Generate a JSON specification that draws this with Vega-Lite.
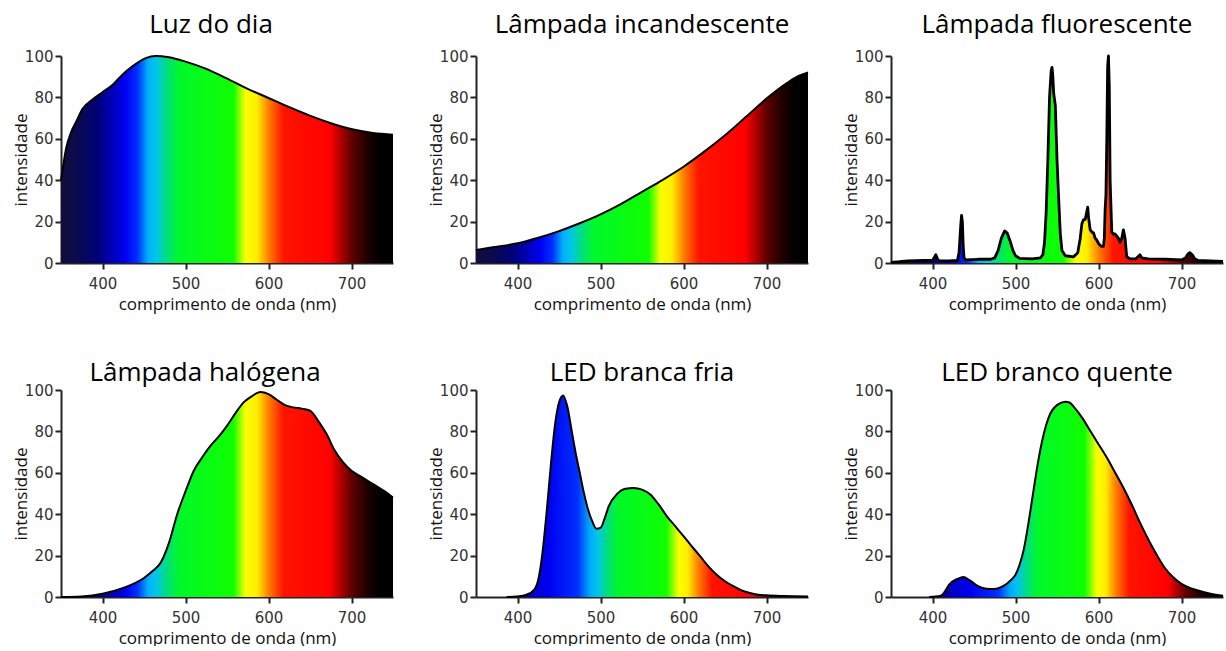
{
  "$schema": "https://vega.github.io/schema/vega-lite/v6.json",
  "padding": {"left": 12, "top": 12, "right": 0, "bottom": 0},
  "background": "white",
  "datasets": {
    "luz": [
      {"x":350,"y":40},{"x":353,"y":48},{"x":356,"y":55},{"x":362,"y":63},{"x":368,"y":68},{"x":376,"y":74.5},{"x":388,"y":79},{"x":400,"y":82.5},{"x":412,"y":86},{"x":424,"y":91},{"x":436,"y":95},{"x":452,"y":99},{"x":464,"y":100},{"x":480,"y":99.4},{"x":500,"y":97.3},{"x":525,"y":93.8},{"x":549,"y":89.3},{"x":573,"y":84.5},{"x":600,"y":79.7},{"x":625,"y":75.3},{"x":649,"y":71.3},{"x":677,"y":67.3},{"x":701,"y":64.6},{"x":726,"y":62.8},{"x":750,"y":62}
    ],
    "incandescente": [
      {"x":350,"y":6.3},{"x":375,"y":7.8},{"x":400,"y":9.5},{"x":425,"y":12.2},{"x":450,"y":15.4},{"x":475,"y":19.2},{"x":500,"y":23.5},{"x":525,"y":28.6},{"x":550,"y":34.4},{"x":575,"y":40.2},{"x":600,"y":46.5},{"x":625,"y":53.8},{"x":650,"y":61.7},{"x":675,"y":70.5},{"x":700,"y":79.4},{"x":725,"y":87},{"x":737,"y":90},{"x":750,"y":92}
    ],
    "fluorescente": [
      {"x":350,"y":0.3},{"x":360,"y":0.6},{"x":370,"y":1},{"x":390,"y":1.2},{"x":400,"y":1.2},{"x":402,"y":2.5},{"x":404,"y":4},{"x":406,"y":2},{"x":408,"y":1},{"x":420,"y":1},{"x":430,"y":1.2},{"x":432,"y":5},{"x":434,"y":18},{"x":435,"y":23},{"x":436,"y":20},{"x":437,"y":8},{"x":438,"y":2.5},{"x":440,"y":1.5},{"x":455,"y":1.8},{"x":470,"y":1.8},{"x":475,"y":2.5},{"x":479,"y":6},{"x":483,"y":12},{"x":487,"y":15.5},{"x":490,"y":14.5},{"x":494,"y":10},{"x":497,"y":6},{"x":500,"y":3.5},{"x":505,"y":2.2},{"x":520,"y":2},{"x":530,"y":2.5},{"x":533,"y":4},{"x":535,"y":10},{"x":537,"y":25},{"x":539,"y":50},{"x":541,"y":80},{"x":543,"y":93},{"x":544,"y":94.5},{"x":545,"y":90},{"x":546,"y":82},{"x":548,"y":76},{"x":550,"y":50},{"x":552,"y":31},{"x":554,"y":14},{"x":556,"y":6},{"x":560,"y":3.5},{"x":570,"y":3},{"x":575,"y":5},{"x":578,"y":12},{"x":580,"y":19},{"x":582,"y":21},{"x":584,"y":21},{"x":586,"y":25},{"x":587,"y":27},{"x":588,"y":22},{"x":590,"y":16},{"x":592,"y":15},{"x":594,"y":14.5},{"x":596,"y":12},{"x":598,"y":11},{"x":600,"y":9.5},{"x":602,"y":8.5},{"x":604,"y":8},{"x":606,"y":8},{"x":607,"y":12},{"x":608,"y":26},{"x":609,"y":33},{"x":610,"y":60},{"x":611,"y":95},{"x":612,"y":100},{"x":613,"y":85},{"x":614,"y":40},{"x":616,"y":15},{"x":618,"y":14},{"x":620,"y":14},{"x":622,"y":13},{"x":624,"y":12},{"x":626,"y":10},{"x":628,"y":12},{"x":630,"y":16},{"x":632,"y":12},{"x":634,"y":3},{"x":638,"y":2},{"x":645,"y":2},{"x":650,"y":4},{"x":652,"y":2.5},{"x":660,"y":2},{"x":680,"y":1.8},{"x":700,"y":1.5},{"x":705,"y":2.5},{"x":708,"y":4.5},{"x":710,"y":5},{"x":713,"y":4},{"x":716,"y":2},{"x":720,"y":1.2},{"x":735,"y":1},{"x":750,"y":0.8}
    ],
    "halogena": [
      {"x":350,"y":0},{"x":375,"y":0.3},{"x":400,"y":1.6},{"x":425,"y":4.4},{"x":450,"y":9.2},{"x":460,"y":12.4},{"x":470,"y":16.5},{"x":480,"y":26},{"x":490,"y":40},{"x":500,"y":51},{"x":510,"y":61},{"x":520,"y":67.4},{"x":530,"y":73},{"x":540,"y":77.5},{"x":550,"y":82.7},{"x":560,"y":88.7},{"x":570,"y":94},{"x":580,"y":97},{"x":590,"y":99},{"x":600,"y":98},{"x":610,"y":95.3},{"x":620,"y":92.7},{"x":630,"y":91.6},{"x":640,"y":91},{"x":650,"y":90},{"x":660,"y":85},{"x":670,"y":78.7},{"x":680,"y":70.6},{"x":690,"y":65},{"x":700,"y":61},{"x":710,"y":58.5},{"x":720,"y":56},{"x":730,"y":53.6},{"x":740,"y":51},{"x":750,"y":48}
    ],
    "ledfria": [
      {"x":387,"y":0},{"x":400,"y":0.3},{"x":410,"y":1},{"x":420,"y":3.5},{"x":425,"y":8.4},{"x":430,"y":21},{"x":435,"y":40.6},{"x":440,"y":63},{"x":445,"y":82.6},{"x":450,"y":94},{"x":455,"y":97.4},{"x":460,"y":92},{"x":465,"y":81},{"x":470,"y":69.7},{"x":475,"y":60},{"x":480,"y":50.3},{"x":485,"y":42.3},{"x":490,"y":36.6},{"x":495,"y":33},{"x":500,"y":33.4},{"x":505,"y":38},{"x":510,"y":43.9},{"x":520,"y":49.8},{"x":530,"y":52.3},{"x":540,"y":52.7},{"x":550,"y":51.9},{"x":560,"y":49.5},{"x":570,"y":44.7},{"x":580,"y":39},{"x":590,"y":34.2},{"x":600,"y":29.4},{"x":610,"y":24.5},{"x":620,"y":19.7},{"x":630,"y":14.8},{"x":640,"y":10.8},{"x":650,"y":7.6},{"x":660,"y":5.2},{"x":670,"y":3.2},{"x":680,"y":1.9},{"x":690,"y":1.1},{"x":700,"y":0.8},{"x":720,"y":0.5},{"x":750,"y":0.3}
    ],
    "ledquente": [
      {"x":396,"y":0},{"x":410,"y":0.6},{"x":415,"y":2.7},{"x":420,"y":6},{"x":430,"y":8.7},{"x":437,"y":9.7},{"x":445,"y":8},{"x":455,"y":5.2},{"x":465,"y":4},{"x":475,"y":3.9},{"x":485,"y":5.2},{"x":495,"y":8.4},{"x":500,"y":10.8},{"x":505,"y":15.7},{"x":510,"y":23},{"x":515,"y":34.2},{"x":520,"y":47},{"x":525,"y":60},{"x":530,"y":71.4},{"x":535,"y":80.3},{"x":540,"y":86.8},{"x":550,"y":92.7},{"x":560,"y":94.3},{"x":565,"y":94},{"x":570,"y":92},{"x":580,"y":86.8},{"x":590,"y":80.3},{"x":600,"y":73.8},{"x":610,"y":67.4},{"x":620,"y":60.1},{"x":630,"y":52.8},{"x":640,"y":44.7},{"x":650,"y":35.9},{"x":660,"y":27.8},{"x":670,"y":20.5},{"x":680,"y":14},{"x":690,"y":9.5},{"x":700,"y":6.3},{"x":710,"y":4.4},{"x":720,"y":3.1},{"x":735,"y":1.6},{"x":750,"y":0.6}
    ]
  },
  "columns": 3,
  "bounds": "flush",
  "spacing": {"row": 127, "column": 83},
  "concat": [
    {
      "title": {"text": "Luz do dia", "dx": -16, "offset": 11},
      "width": 332, "height": 207,
      "data": {"name": "luz"},
      "encoding": {
        "x": {"field": "x", "type": "quantitative", "scale": {"domain": [350, 750], "nice": false, "zero": false}, "axis": {"values": [400, 500, 600, 700], "title": "comprimento de onda (nm)", "titleY": 46, "titleBaseline": "alphabetic", "labelPadding": 7}},
        "y": {"field": "y", "type": "quantitative", "scale": {"domain": [0, 100], "nice": false}, "axis": {"values": [0, 20, 40, 60, 80, 100], "title": "intensidade", "titleX": -35, "titleY": 103.5, "titleAngle": -90, "titleAlign": "center", "titleBaseline": "alphabetic", "labelPadding": 2}}
      },
      "layer": [
        {"mark": {"type": "area", "interpolate": "monotone"}},
        {"mark": {"type": "line", "interpolate": "monotone"}}
      ]
    },
    {
      "title": {"text": "Lâmpada incandescente", "offset": 11},
      "width": 332, "height": 207,
      "data": {"name": "incandescente"},
      "encoding": {
        "x": {"field": "x", "type": "quantitative", "scale": {"domain": [350, 750], "nice": false, "zero": false}, "axis": {"values": [400, 500, 600, 700], "title": "comprimento de onda (nm)", "titleY": 46, "titleBaseline": "alphabetic", "labelPadding": 7}},
        "y": {"field": "y", "type": "quantitative", "scale": {"domain": [0, 100], "nice": false}, "axis": {"values": [0, 20, 40, 60, 80, 100], "title": "intensidade", "titleX": -35, "titleY": 103.5, "titleAngle": -90, "titleAlign": "center", "titleBaseline": "alphabetic", "labelPadding": 2}}
      },
      "layer": [
        {"mark": {"type": "area", "interpolate": "monotone"}},
        {"mark": {"type": "line", "interpolate": "monotone"}}
      ]
    },
    {
      "title": {"text": "Lâmpada fluorescente", "offset": 11},
      "width": 332, "height": 207,
      "data": {"name": "fluorescente"},
      "encoding": {
        "x": {"field": "x", "type": "quantitative", "scale": {"domain": [350, 750], "nice": false, "zero": false}, "axis": {"values": [400, 500, 600, 700], "title": "comprimento de onda (nm)", "titleY": 46, "titleBaseline": "alphabetic", "labelPadding": 7}},
        "y": {"field": "y", "type": "quantitative", "scale": {"domain": [0, 100], "nice": false}, "axis": {"values": [0, 20, 40, 60, 80, 100], "title": "intensidade", "titleX": -35, "titleY": 103.5, "titleAngle": -90, "titleAlign": "center", "titleBaseline": "alphabetic", "labelPadding": 2}}
      },
      "layer": [
        {"mark": {"type": "area", "interpolate": "linear"}},
        {"mark": {"type": "line", "interpolate": "linear", "strokeWidth": 2.8, "strokeJoin": "round"}}
      ]
    },
    {
      "title": {"text": "Lâmpada halógena", "dx": -22, "offset": -3},
      "width": 332, "height": 207,
      "data": {"name": "halogena"},
      "encoding": {
        "x": {"field": "x", "type": "quantitative", "scale": {"domain": [350, 750], "nice": false, "zero": false}, "axis": {"values": [400, 500, 600, 700], "title": "comprimento de onda (nm)", "titleY": 46, "titleBaseline": "alphabetic", "labelPadding": 7}},
        "y": {"field": "y", "type": "quantitative", "scale": {"domain": [0, 100], "nice": false}, "axis": {"values": [0, 20, 40, 60, 80, 100], "title": "intensidade", "titleX": -35, "titleY": 103.5, "titleAngle": -90, "titleAlign": "center", "titleBaseline": "alphabetic", "labelPadding": 2}}
      },
      "layer": [
        {"mark": {"type": "area", "interpolate": "monotone"}},
        {"mark": {"type": "line", "interpolate": "monotone"}}
      ]
    },
    {
      "title": {"text": "LED branca fria", "offset": -3},
      "width": 332, "height": 207,
      "data": {"name": "ledfria"},
      "encoding": {
        "x": {"field": "x", "type": "quantitative", "scale": {"domain": [350, 750], "nice": false, "zero": false}, "axis": {"values": [400, 500, 600, 700], "title": "comprimento de onda (nm)", "titleY": 46, "titleBaseline": "alphabetic", "labelPadding": 7}},
        "y": {"field": "y", "type": "quantitative", "scale": {"domain": [0, 100], "nice": false}, "axis": {"values": [0, 20, 40, 60, 80, 100], "title": "intensidade", "titleX": -35, "titleY": 103.5, "titleAngle": -90, "titleAlign": "center", "titleBaseline": "alphabetic", "labelPadding": 2}}
      },
      "layer": [
        {"mark": {"type": "area", "interpolate": "monotone", "color": {"gradient": "linear", "x1": 0, "y1": 0, "x2": 1, "y2": 0, "stops": [
          {"offset": 0, "color": "#000060"},
          {"offset": 0.08, "color": "#0000c8"},
          {"offset": 0.14, "color": "#0000f0"},
          {"offset": 0.235, "color": "#0030ff"},
          {"offset": 0.275, "color": "#00a8f8"},
          {"offset": 0.3, "color": "#00c4ee"},
          {"offset": 0.335, "color": "#00e07a"},
          {"offset": 0.37, "color": "#00f82a"},
          {"offset": 0.53, "color": "#10ff00"},
          {"offset": 0.57, "color": "#f8ff00"},
          {"offset": 0.6, "color": "#ffee00"},
          {"offset": 0.635, "color": "#ff8000"},
          {"offset": 0.68, "color": "#ff1400"},
          {"offset": 0.81, "color": "#ff0000"},
          {"offset": 0.875, "color": "#600000"},
          {"offset": 0.925, "color": "#1c0000"},
          {"offset": 0.96, "color": "#000000"},
          {"offset": 1, "color": "#000000"}
        ]}}},
        {"mark": {"type": "line", "interpolate": "monotone"}}
      ]
    },
    {
      "title": {"text": "LED branco quente", "offset": -3},
      "width": 332, "height": 207,
      "data": {"name": "ledquente"},
      "encoding": {
        "x": {"field": "x", "type": "quantitative", "scale": {"domain": [350, 750], "nice": false, "zero": false}, "axis": {"values": [400, 500, 600, 700], "title": "comprimento de onda (nm)", "titleY": 46, "titleBaseline": "alphabetic", "labelPadding": 7}},
        "y": {"field": "y", "type": "quantitative", "scale": {"domain": [0, 100], "nice": false}, "axis": {"values": [0, 20, 40, 60, 80, 100], "title": "intensidade", "titleX": -35, "titleY": 103.5, "titleAngle": -90, "titleAlign": "center", "titleBaseline": "alphabetic", "labelPadding": 2}}
      },
      "layer": [
        {"mark": {"type": "area", "interpolate": "monotone", "color": {"gradient": "linear", "x1": 0, "y1": 0, "x2": 1, "y2": 0, "stops": [
          {"offset": 0, "color": "#000060"},
          {"offset": 0.08, "color": "#0000c8"},
          {"offset": 0.14, "color": "#0000f0"},
          {"offset": 0.235, "color": "#0030ff"},
          {"offset": 0.275, "color": "#00a8f8"},
          {"offset": 0.3, "color": "#00c4ee"},
          {"offset": 0.335, "color": "#00e07a"},
          {"offset": 0.37, "color": "#00f82a"},
          {"offset": 0.53, "color": "#10ff00"},
          {"offset": 0.57, "color": "#f8ff00"},
          {"offset": 0.6, "color": "#ffee00"},
          {"offset": 0.635, "color": "#ff8000"},
          {"offset": 0.68, "color": "#ff1400"},
          {"offset": 0.81, "color": "#ff0000"},
          {"offset": 0.875, "color": "#600000"},
          {"offset": 0.925, "color": "#1c0000"},
          {"offset": 0.96, "color": "#000000"},
          {"offset": 1, "color": "#000000"}
        ]}}},
        {"mark": {"type": "line", "interpolate": "monotone"}}
      ]
    }
  ],
  "config": {
    "view": {"stroke": null},
    "title": {"font": "Open Sans", "fontSize": 26, "fontWeight": "normal", "color": "#000000", "frame": "group", "anchor": "middle", "baseline": "alphabetic"},
    "axis": {"domainColor": "#222222", "domainWidth": 2, "tickColor": "#222222", "tickWidth": 2, "tickSize": 6, "grid": false, "labelFont": "DejaVu Sans", "labelFontSize": 15, "labelColor": "#333333", "titleFont": "Open Sans", "titleFontSize": 17, "titleFontWeight": "normal", "titleColor": "#111111", "labelFlush": false},
    "line": {"color": "#000000", "strokeWidth": 2},
    "area": {"color": {"gradient": "linear", "x1": 0, "y1": 0, "x2": 1, "y2": 0, "stops": [
      {"offset": 0, "color": "#140c38"},
      {"offset": 0.05, "color": "#0a0a50"},
      {"offset": 0.11, "color": "#000078"},
      {"offset": 0.16, "color": "#0000c0"},
      {"offset": 0.195, "color": "#0000f4"},
      {"offset": 0.23, "color": "#0030ff"},
      {"offset": 0.262, "color": "#00b0f8"},
      {"offset": 0.285, "color": "#00c4ee"},
      {"offset": 0.32, "color": "#00e07a"},
      {"offset": 0.355, "color": "#00f82a"},
      {"offset": 0.52, "color": "#10ff00"},
      {"offset": 0.555, "color": "#f8ff00"},
      {"offset": 0.59, "color": "#ffee00"},
      {"offset": 0.625, "color": "#ff8000"},
      {"offset": 0.67, "color": "#ff1400"},
      {"offset": 0.81, "color": "#ff0000"},
      {"offset": 0.875, "color": "#600000"},
      {"offset": 0.925, "color": "#1c0000"},
      {"offset": 0.96, "color": "#000000"},
      {"offset": 1, "color": "#000000"}
    ]}, "opacity": 1}
  }
}
